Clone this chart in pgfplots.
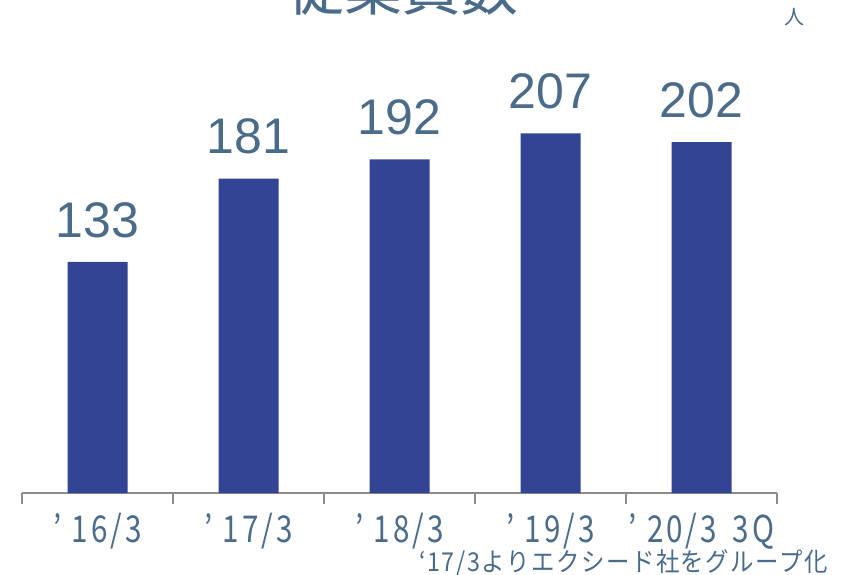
\documentclass[border=0pt]{standalone}
\usepackage{fontspec}
\usepackage{pgfplots}
\pgfplotsset{compat=1.18}
\setmainfont{Liberation Sans}
\newfontfamily\cjk{Noto Sans CJK JP}
\newfontfamily\cjknarrow[FakeStretch=0.8, LetterSpace=8]{Noto Sans CJK JP}
\newfontfamily\cjkfoot[FakeStretch=0.9, LetterSpace=6]{Noto Sans CJK JP}
\definecolor{barblue}{HTML}{344494}
\definecolor{txt}{HTML}{4A6B8A}
\definecolor{axgray}{HTML}{8C8C8C}
\begin{document}
\begin{tikzpicture}
\useasboundingbox (0,0) rectangle (845bp,575bp);
\clip (0,0) rectangle (845bp,575bp);
\begin{axis}[
  at={(22bp,82bp)}, anchor=south west,
  scale only axis, width=755bp, height=493bp,
  xmin=-0.5, xmax=4.5, ymin=0, ymax=283.8,
  axis x line*=bottom, axis y line=none,
  x axis line style={axgray, line width=2.5bp},
  xtick={0,1,2,3,4},
  xticklabels={’\hspace{10bp}16/3, ’\hspace{10bp}17/3, ’\hspace{10bp}18/3, ’\hspace{10bp}19/3, ’\hspace{10bp}20/3\hspace{16bp}3Q},
  major tick length=0pt,
  minor xtick={-0.5,0.5,1.5,2.5,3.5,4.5},
  minor tick length=11bp,
  tick align=outside,
  every minor tick/.style={axgray, line width=2bp},
  xticklabel style={font=\cjknarrow\fontsize{37bp}{42bp}\selectfont, text=txt, anchor=north, inner sep=0pt, yshift=-20bp},
  ybar, bar width=60bp,
  nodes near coords={\pgfmathprintnumber[assume math mode=true]{\pgfplotspointmeta}},
  nodes near coords style={font=\fontsize{50bp}{56bp}\selectfont, text=txt, anchor=south, inner sep=0pt, yshift=24bp},
  clip=false,
]
\addplot[fill=barblue, draw=none] coordinates {(0,133) (1,181) (2,192) (3,207) (4,202)};
\end{axis}
\node[anchor=base, inner sep=0pt, text=txt, font=\cjk\fontsize{58bp}{64bp}\selectfont] at (402bp,564bp) {従業員数};
\node[anchor=center, inner sep=0pt, text=txt, font=\cjk\fontsize{20bp}{24bp}\selectfont] at (794bp,558bp) {人};
\node[anchor=east, inner sep=0pt, text=txt, font=\cjkfoot\fontsize{26bp}{30bp}\selectfont] at (828bp,12bp) {‘17/3よりエクシード社をグループ化};
\end{tikzpicture}
\end{document}
